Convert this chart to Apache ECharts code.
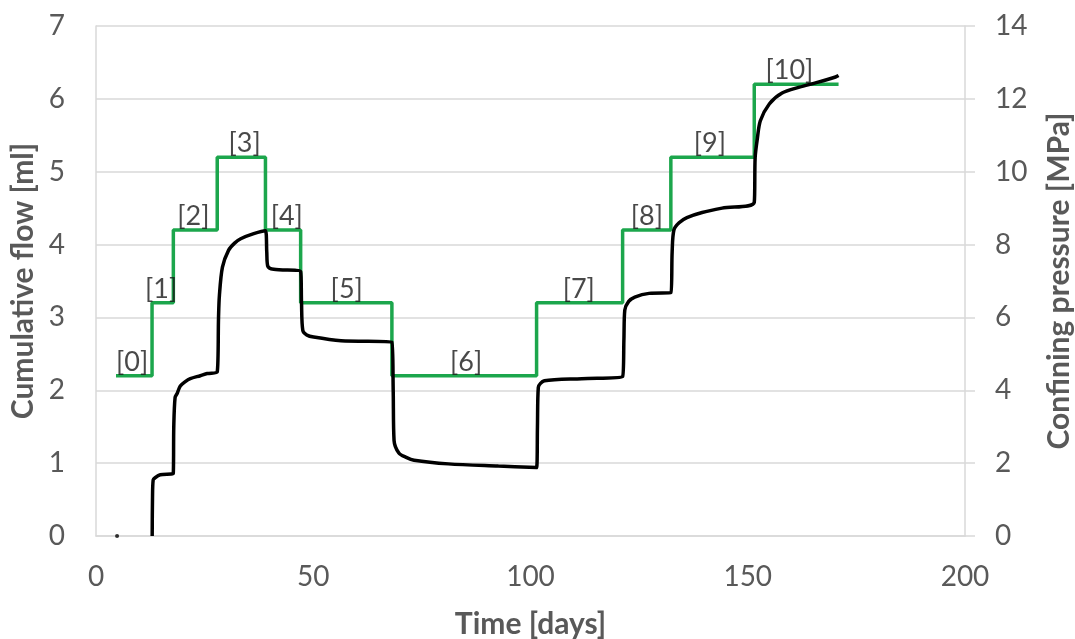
<!DOCTYPE html>
<html>
<head>
<meta charset="utf-8">
<script src="https://cdn.jsdelivr.net/npm/echarts@6/dist/echarts.min.js"></script>
<style>html,body{margin:0;padding:0;background:#fff;overflow:hidden}#c{width:1075px;height:639px}</style>
</head>
<body>
<div id="c"></div>
<script>
// Cumulative flow [ml] vs time [days]
const flowDays = [12.93,13.0,13.16,13.6,14.8,17.78,17.9,18.2,18.7,19.4,20.55,21.7,24.0,25.6,27.9,28.2,28.4,29.1,30.5,31.9,33.3,36.3,39.0,39.3,39.5,40.9,47.1,47.3,47.6,48.5,50.1,56.4,68.1,68.4,68.6,69.7,71.4,73.2,81.1,92.6,101.4,101.6,101.8,103.2,111.8,121.2,121.5,121.7,122.6,124.0,127.3,132.3,132.6,133.0,134.2,136.0,139.5,144.1,151.5,151.7,152.2,152.9,154.96,157.9,161.9,165.6,170.2,170.9];
const flowValues = [0,0.5,0.77,0.80,0.84,0.86,1.5,1.90,1.96,2.06,2.12,2.16,2.20,2.23,2.25,3.0,3.3,3.69,3.92,4.02,4.08,4.15,4.19,3.9,3.71,3.66,3.63,3.2,2.82,2.76,2.73,2.68,2.66,2.0,1.31,1.14,1.08,1.04,0.99,0.96,0.94,1.5,2.04,2.13,2.16,2.19,2.7,3.1,3.22,3.28,3.33,3.34,3.9,4.2,4.3,4.37,4.44,4.50,4.58,5.19,5.45,5.70,5.93,6.08,6.16,6.22,6.30,6.32];
const flowStartDay = 4.85;
const flowStartValue = 0;

// Confining pressure stages [MPa]
const stageNames = ['[0]','[1]','[2]','[3]','[4]','[5]','[6]','[7]','[8]','[9]','[10]'];
const stageStart = [4.6,12.9,17.8,27.9,39.0,47.1,68.1,101.4,121.2,132.3,151.5];
const stageEndLast = 170.9;
const stagePressure = [4.4,6.4,8.4,10.4,8.4,6.4,4.4,6.4,8.4,10.4,12.4];
const stageLabelDay = [8.3,15.0,22.4,34.2,43.9,57.7,85.2,111.1,126.8,141.3,159.6];

// axis ticks
const xTicks = {min:0, max:200, interval:50};
const yLeftTicks = {min:0, max:7, interval:1};
const yRightTicks = {min:0, max:14, interval:2};

const flowData = flowDays.map((d,i)=>[d, flowValues[i]]);
const stepData = [];
stageStart.forEach((s,i)=>{
  const e = i < stageStart.length-1 ? stageStart[i+1] : stageEndLast;
  stepData.push([s, stagePressure[i]]);
  stepData.push([e, stagePressure[i]]);
});
const labelData = stageNames.map((n,i)=>({value:[stageLabelDay[i], stagePressure[i]], name:n}));

const FONT = 'Lato';
const GRAY = '#595959';
const chart = echarts.init(document.getElementById('c'), null, {renderer:'canvas'});
chart.setOption({
  animation:false,
  backgroundColor:'#fff',
  textStyle:{fontFamily:FONT},
  grid:{left:96, right:110, top:26, bottom:103, containLabel:false, outerBoundsMode:'none'},
  xAxis:{
    type:'value', min:xTicks.min, max:xTicks.max, interval:xTicks.interval,
    name:'Time [days]', nameLocation:'middle', nameGap:73,
    nameTextStyle:{fontFamily:FONT, fontSize:30, fontWeight:'bold', color:GRAY},
    axisLine:{show:true, lineStyle:{color:'#d9d9d9', width:1.5}},
    axisTick:{show:false},
    axisLabel:{fontFamily:FONT, fontSize:28, color:GRAY, margin:27},
    splitLine:{show:false}
  },
  yAxis:[{
    type:'value', min:yLeftTicks.min, max:yLeftTicks.max, interval:yLeftTicks.interval,
    name:'Cumulative flow [ml]', nameLocation:'middle', nameGap:57, nameRotate:90,
    nameTextStyle:{fontFamily:FONT, fontSize:30, fontWeight:'bold', color:GRAY},
    axisLine:{show:true, lineStyle:{color:'#d9d9d9', width:1.5}},
    axisTick:{show:false},
    axisLabel:{fontFamily:FONT, fontSize:28, color:GRAY, margin:31},
    splitLine:{show:true, lineStyle:{color:'#d9d9d9', width:1.5}}
  },{
    type:'value', position:'right', min:yRightTicks.min, max:yRightTicks.max, interval:yRightTicks.interval,
    name:'Confining pressure [MPa]', nameLocation:'middle', nameGap:79, nameRotate:90,
    nameTextStyle:{fontFamily:FONT, fontSize:30, fontWeight:'bold', color:GRAY},
    axisLine:{show:true, lineStyle:{color:'#d9d9d9', width:1.5}},
    axisTick:{show:true, inside:false, length:10, lineStyle:{color:'#d9d9d9', width:1.5}},
    axisLabel:{fontFamily:FONT, fontSize:28, color:GRAY, margin:30},
    splitLine:{show:false}
  }],
  series:[{
    name:'Confining pressure', type:'line', yAxisIndex:1, data:stepData,
    showSymbol:false, symbol:'none', lineStyle:{color:'#1ca64c', width:3.5}, z:2
  },{
    name:'Cumulative flow', type:'line', yAxisIndex:0, data:flowData,
    showSymbol:false, symbol:'none', smooth:0.3, lineStyle:{color:'#000', width:3.5}, z:3
  },{
    name:'Flow start', type:'scatter', yAxisIndex:0, data:[[flowStartDay, flowStartValue]],
    symbolSize:4, itemStyle:{color:'#000'}, z:3
  },{
    name:'Stage labels', type:'scatter', yAxisIndex:1, data:labelData,
    symbolSize:0, silent:true,
    label:{show:true, position:'top', distance:0, formatter:p=>p.name,
      fontFamily:FONT, fontSize:27, color:'#1a1a1a'}, z:4
  }]
});
</script>
</body>
</html>
